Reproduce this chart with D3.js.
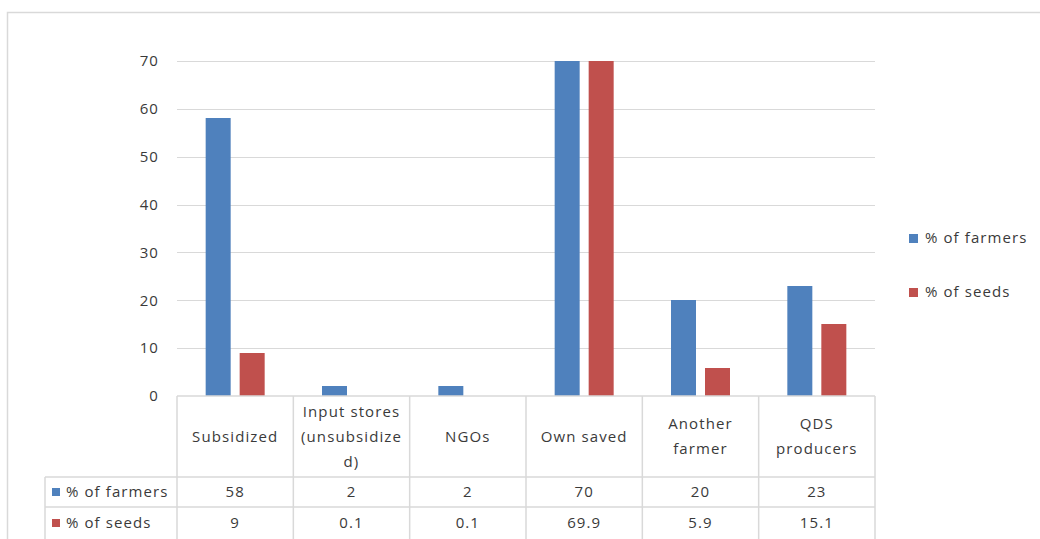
<!DOCTYPE html>
<html><head><meta charset="utf-8">
<script src="https://cdn.jsdelivr.net/npm/d3@7"></script>
<style>body{margin:0;background:#fff;} svg text{font-family:"Open Sans",sans-serif;fill:#3a3a3a;letter-spacing:1.1px;}</style>
</head><body><svg id="c" width="1040" height="539"></svg>
<script>
const categories = [["Subsidized"],["Input stores","(unsubsidize","d)"],["NGOs"],["Own saved"],["Another","farmer"],["QDS","producers"]];
const seriesNames = ["% of farmers","% of seeds"];
const farmers = [58,2,2,70,20,23];
const seeds = [9,0.1,0.1,69.9,5.9,15.1];
const farmersLabels = ["58","2","2","70","20","23"];
const seedsLabels = ["9","0.1","0.1","69.9","5.9","15.1"];
const yTicks = [0,10,20,30,40,50,60,70];
const colors = ["#4f81bd","#c0504d"];

const svg = d3.select("#c");
const L = 177, R = 875, T = 61, B = 396;
const x = d3.scaleBand().domain(d3.range(categories.length)).range([L,R]);
const y = d3.scaleLinear().domain([0,70]).range([B,T]);
const grid = "#d9d9d9";
const FS = 15;

// outer border
svg.append("path").attr("d","M7.5,539 V12.5 H1040").attr("fill","none").attr("stroke","#d9d9d9").attr("stroke-width",1.5);

// gridlines
svg.append("g").selectAll("line").data(yTicks.filter(d=>d>0)).join("line")
  .attr("x1",L).attr("x2",R).attr("y1",d=>Math.round(y(d))+0.5).attr("y2",d=>Math.round(y(d))+0.5)
  .attr("stroke",grid).attr("stroke-width",1.2);
// y axis labels
const yAxis = d3.axisLeft(y).tickValues(yTicks).tickSize(0).tickPadding(0);
const ga = svg.append("g").attr("transform",`translate(${L-18},0)`).call(yAxis);
ga.select(".domain").remove();
ga.selectAll("text").attr("font-family","Open Sans").attr("font-size",FS).attr("fill","#3a3a3a");

// bars
const bw = 25, off = 17;
const series = [farmers, seeds];
series.forEach((vals,si)=>{
  svg.append("g").selectAll("rect").data(vals).join("rect")
    .attr("x",(d,i)=>x(i)+x.bandwidth()/2 + (si===0?-off:off) - bw/2)
    .attr("width",bw)
    .attr("y",d=>B-Math.round(B-y(d))).attr("height",d=>Math.round(B-y(d)))
    .attr("fill",colors[si]);
});

// data table
const H1 = 477, H2 = 507, H3 = 545, TL = 45;
const tg = svg.append("g").attr("stroke",grid).attr("stroke-width",1.5).attr("fill","none");
tg.append("line").attr("x1",L).attr("x2",R).attr("y1",B).attr("y2",B);
tg.append("line").attr("x1",TL).attr("x2",R).attr("y1",H1).attr("y2",H1);
tg.append("line").attr("x1",TL).attr("x2",R).attr("y1",H2).attr("y2",H2);
tg.append("line").attr("x1",TL).attr("x2",TL).attr("y1",H1).attr("y2",H3);
d3.range(categories.length+1).forEach(i=>{
  const xx = i<categories.length ? x(i) : R;
  tg.append("line").attr("x1",xx).attr("x2",xx).attr("y1",B).attr("y2",H3);
});

// headers
const lh = 25;
categories.forEach((lines,i)=>{
  const cx = x(i)+x.bandwidth()/2;
  const cy = (B+H1)/2;
  const t = svg.append("text").attr("text-anchor","middle").attr("font-size",FS);
  lines.forEach((ln,k)=>{
    t.append("tspan").attr("x",cx).attr("y",cy + (k-(lines.length-1)/2)*lh).attr("dy","0.35em").text(ln);
  });
});
// rows
const rowLabels=[farmersLabels,seedsLabels];
const rowY=[(H1+H2)/2,(H2+539)/2];
rowLabels.forEach((labs,si)=>{
  svg.append("g").selectAll("text").data(labs).join("text")
    .attr("x",(d,i)=>x(i)+x.bandwidth()/2).attr("y",rowY[si]).attr("dy","0.35em")
    .attr("text-anchor","middle").attr("font-size",FS).text(d=>d);
  svg.append("rect").attr("x",52).attr("y",rowY[si]-4).attr("width",8).attr("height",8).attr("fill",colors[si]);
  svg.append("text").attr("x",66).attr("y",rowY[si]).attr("dy","0.35em").attr("font-size",FS).text(seriesNames[si]);
});

// legend
const legY=[238,292];
seriesNames.forEach((n,si)=>{
  svg.append("rect").attr("x",909).attr("y",legY[si]-4).attr("width",9).attr("height",9).attr("fill",colors[si]);
  svg.append("text").attr("x",925).attr("y",legY[si]).attr("dy","0.35em").attr("font-size",FS).text(n);
});
</script></body></html>
